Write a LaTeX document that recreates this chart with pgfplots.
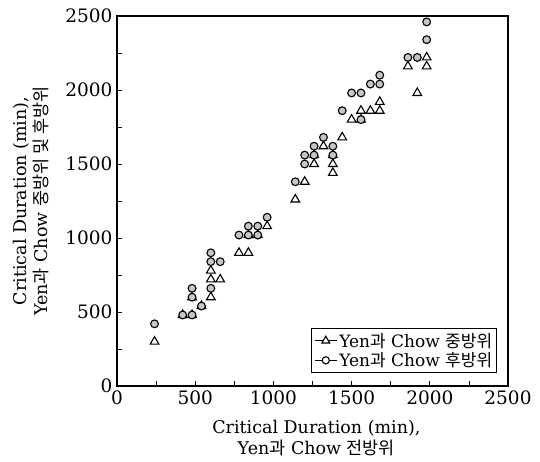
\documentclass[border=0pt]{standalone}
\usepackage{pgfplots}
\pgfplotsset{compat=1.18}
\usepackage{fontspec}
\setmainfont{DejaVu Serif}
\newfontfamily\kr{Noto Sans CJK KR}[Scale=1.0]
\begin{document}
\begin{tikzpicture}
\begin{axis}[
  name=ax,
  scale only axis,
  width=391pt, height=370pt,
  xmin=0, xmax=2500, ymin=0, ymax=2500,
  xtick={0,500,...,2500}, ytick={0,500,...,2500},
  minor xtick={250,750,...,2250}, minor ytick={250,750,...,2250},
  tick align=inside, xtick pos=left, ytick pos=left,
  major tick length=5pt, minor tick length=5pt,
  axis line style={line width=1.3pt},
  tick style={line width=0.8pt, black},
  /pgf/number format/assume math mode=true,
  /pgf/number format/1000 sep={},
  tick label style={font=\fontsize{18.5}{20}\selectfont},
  xticklabel style={yshift=-1pt},
  yticklabel style={xshift=-1pt},
  xlabel={Critical Duration (min),\\Yen{\kr 과} Chow {\kr 전방위}},
  ylabel={Critical Duration (min),\\Yen{\kr 과} Chow {\kr 중방위 및 후방위}},
  label style={font=\fontsize{17.5}{21.5}\selectfont, align=center},
  xlabel style={at={(axis description cs:0.51,-0.14)}, anchor=center},
  ylabel style={at={(axis description cs:-0.22,0.5)}, anchor=center},
  legend style={at={(0.972,0.035)}, anchor=south east, draw=black, line width=0.8pt,
    font=\fontsize{17}{21}\selectfont, inner sep=2.5pt, row sep=0pt},
  legend cell align=left,
]
\addplot[only marks, mark=triangle*, mark size=5pt,
  mark options={fill=white, draw=black, line width=1.1pt},
  legend image code/.code={\draw[line width=1pt] (0pt,0pt)--(22pt,0pt);
    \draw[line width=1.1pt] plot[mark=triangle*, mark size=4.5pt, mark options={fill=white}] coordinates {(11pt,0pt)};}]
coordinates {
(240,300) (420,480) (480,480) (540,540) (480,600) (600,600) (600,720) (660,720)
(600,780) (780,900) (840,900) (840,1020) (900,1020) (960,1080) (1140,1260)
(1200,1380) (1260,1500) (1260,1560) (1320,1620) (1380,1440) (1380,1500)
(1380,1560) (1440,1680) (1500,1800) (1560,1800) (1560,1860) (1620,1860)
(1680,1860) (1680,1920) (1860,2160) (1920,1980) (1980,2160) (1980,2220)
};
\addlegendentry{Yen{\kr 과} Chow {\kr 중방위}}
\addplot[only marks, mark=*, mark size=3.9pt,
  mark options={fill=gray!45, draw=black, line width=1.1pt},
  legend image code/.code={\draw[line width=1pt] (0pt,0pt)--(22pt,0pt);
    \draw[fill=white, line width=1.1pt] (11pt,0pt) circle (3.6pt);}]
coordinates {
(240,420) (420,480) (480,480) (540,540) (480,600) (480,660) (600,660) (600,840)
(660,840) (600,900) (780,1020) (840,1020) (900,1020) (840,1080) (900,1080)
(960,1140) (1140,1380) (1200,1500) (1200,1560) (1260,1560) (1260,1620)
(1320,1680) (1380,1620) (1380,1560) (1440,1860) (1560,1800) (1500,1980)
(1560,1980) (1620,2040) (1680,2040) (1680,2100) (1860,2220) (1920,2220)
(1980,2340) (1980,2460)
};
\addlegendentry{Yen{\kr 과} Chow {\kr 후방위}}
\end{axis}
\path (ax.south west) +(-117pt,-75pt) (ax.north east) +(32pt,16pt);
\end{tikzpicture}
\end{document}
